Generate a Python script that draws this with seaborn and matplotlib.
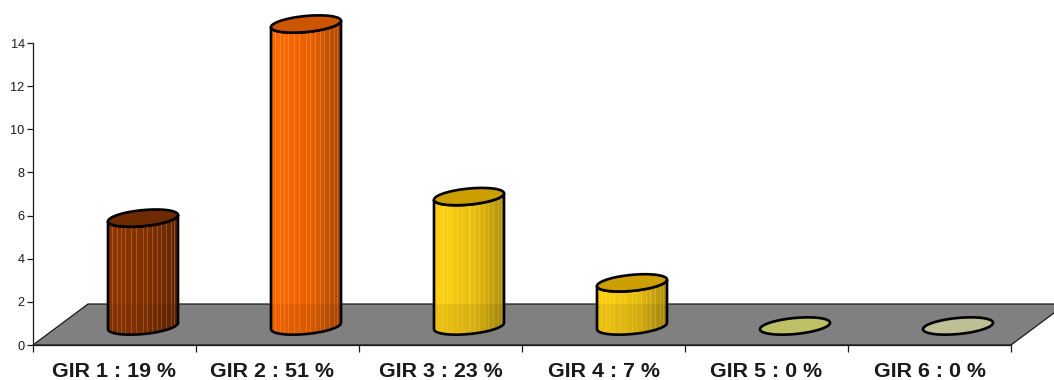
import numpy as np
import pandas as pd
import matplotlib
matplotlib.use("Agg")
import matplotlib.pyplot as plt
from matplotlib.colors import to_rgb
from matplotlib.patches import PathPatch, Polygon
from matplotlib.path import Path
from matplotlib.transforms import ScaledTranslation
import seaborn as sns

# Number of residents in each dependency group
categories = ["GIR 1 : 19 %", "GIR 2 : 51 %", "GIR 3 : 23 %",
              "GIR 4 : 7 %", "GIR 5 : 0 %", "GIR 6 : 0 %"]
counts = [5, 14, 6, 2, 0, 0]
body_colors = ["#8F3600", "#FF6A00", "#FFD010", "#FFD010", "#BFBF66", "#BFBF96"]
cap_colors = ["#6E2A00", "#CC5500", "#CC9E00", "#CC9E00", "#BFBF66", "#BFBF96"]
y_ticks = [0, 2, 4, 6, 8, 10, 12, 14]

W, H = 1054, 380
LEFT, RIGHT, BOTTOM, TOP = 33, 1011, 345, 43
PX_Y = 14 / (BOTTOM - TOP)           # data units per pixel, vertically
PX_X = 6 / (RIGHT - LEFT)            # data units per pixel, horizontally
LIFT = 19 * PX_Y                     # columns stand mid-way across the floor depth
SHIFT = 28.5 * PX_X                  # and are pushed right by the same oblique view
MINOR_PX = 8.0
ANGLE = np.radians(5.5)

sns.set_style("ticks")
plt.rcParams["font.family"] = ["Liberation Sans", "DejaVu Sans"]

fig = plt.figure(figsize=(W / 100, H / 100), dpi=100, facecolor="white")
ax = fig.add_axes([LEFT / W, 1 - BOTTOM / H, (RIGHT - LEFT) / W, (BOTTOM - TOP) / H])

df = pd.DataFrame({"group": categories, "count": counts})
sns.barplot(data=df, x="group", y="count", hue="group", palette=body_colors,
            order=categories, hue_order=categories, saturation=1, legend=False,
            width=70 / 163, bottom=LIFT, ax=ax, zorder=3)
bars = sorted(ax.patches, key=lambda p: p.get_x())
ax.set_xlim(-0.5, 5.5)
ax.set_ylim(0, 14)
ax.set_xlabel("")
ax.set_ylabel("")

# Perspective floor, running past the right edge of the plotting area
back = 41 * PX_Y
floor_pts = [(-0.5, 0), (5.5, 0), (5.5 + 55 * PX_X, back), (-0.5 + 55 * PX_X, back)]
ax.add_patch(Polygon(floor_pts, closed=True, facecolor="#808080", edgecolor="#1a1a1a",
                     linewidth=0.9, clip_on=False, zorder=1))

# Fixed fractions across the body where the lighter facets fall
facets = [0.06, 0.13, 0.19, 0.25, 0.33, 0.40, 0.50, 0.56, 0.63, 0.71, 0.77, 0.84, 0.90, 0.95]


def ellipse(cx, cy, half_w, start, stop, n=60):
    """Rotated ellipse in data units; its shape is defined in screen pixels."""
    t = np.linspace(start, stop, n)
    major = half_w / PX_X / np.cos(ANGLE)
    dx = major * np.cos(t) * np.cos(ANGLE) - MINOR_PX * np.sin(t) * np.sin(ANGLE)
    dy = major * np.cos(t) * np.sin(ANGLE) + MINOR_PX * np.sin(t) * np.cos(ANGLE)
    return np.column_stack([cx + dx * PX_X, cy + dy * PX_Y])


for bar, body, cap in zip(bars, body_colors, cap_colors):
    bar.set_visible(False)
    x0, w = bar.get_x() + SHIFT, bar.get_width()
    cx, half_w = x0 + w / 2, w / 2
    y_low, y_top = bar.get_y(), bar.get_y() + bar.get_height()

    if bar.get_height() > 0:
        # Arc limits sit where the ellipse is widest, so the sides join it tangentially
        t0 = np.arctan2(-MINOR_PX * np.sin(ANGLE), half_w / PX_X)
        front_low = ellipse(cx, y_low, half_w, np.pi + t0, 2 * np.pi + t0)
        front_top = ellipse(cx, y_top, half_w, 2 * np.pi + t0, np.pi + t0)
        outline = np.vstack([front_low, front_top, front_low[:1]])
        clip = PathPatch(Path(outline), transform=ax.transData, facecolor="none",
                         edgecolor="none")
        ax.add_patch(clip)

        # Left-to-right shading with thin pale facets
        shade = np.interp(np.linspace(0, 1, 70), [0, 0.12, 0.6, 1], [0.98, 1.0, 0.9, 0.68])
        strip = np.outer(shade, to_rgb(body))
        for f in facets:
            i = int(f * 70)
            strip[i] = strip[i] * 0.78 + 0.22 * np.array([1, 0.9, 0.75])
        img = ax.imshow(strip[np.newaxis, :, :], aspect="auto", interpolation="nearest",
                        extent=[x0, x0 + w, y_low - 2, y_top + 2], zorder=3)
        img.set_clip_box(fig.bbox)
        img.set_clip_path(clip)

        # The floor shows faintly through the lower part of each column
        veil = Polygon(floor_pts, closed=True, facecolor="black", edgecolor="none",
                       alpha=0.07, zorder=3.2)
        ax.add_patch(veil)
        veil.set_clip_path(clip)

        ax.add_patch(PathPatch(Path(outline), facecolor="none", edgecolor="black",
                               linewidth=1.9, clip_on=False, zorder=4))

    top_ring = ellipse(cx, y_top, half_w, 0, 2 * np.pi, 120)
    ax.add_patch(Polygon(top_ring, closed=True, facecolor=cap, edgecolor="black",
                         linewidth=1.9, clip_on=False, zorder=5))

ax.set_xlim(-0.5, 5.5)
ax.set_ylim(0, 14)

# Axis lines and ticks
for side in ("top", "right"):
    ax.spines[side].set_visible(False)
for side in ("left", "bottom"):
    ax.spines[side].set_linewidth(0.9)
    ax.spines[side].set_color("#1a1a1a")
    ax.spines[side].set_zorder(6)
ax.set_yticks(y_ticks)
ax.set_xticks(np.arange(-0.5, 6.0, 1), minor=False, labels=[""] * 7)
ax.set_xticks(np.arange(0, 6), labels=categories, minor=True)
ax.tick_params(axis="y", length=4, width=0.9, color="#1a1a1a", pad=2, labelsize=9.2,
               labelcolor="#1a1a1a")
ax.tick_params(axis="x", which="major", length=5, width=0.9, color="#1a1a1a")
ax.tick_params(axis="x", which="minor", length=0, pad=12.5, labelsize=15.4)
for label in ax.get_xticklabels(minor=True):
    label.set_fontweight("bold")
    label.set_color("#1a1a1a")

# The second label sits a little left of its slot
second = ax.xaxis.get_minorticklabels()[1]
second.set_transform(second.get_transform() + ScaledTranslation(-6 / 100, 0, fig.dpi_scale_trans))

fig.savefig("out.png", dpi=100, facecolor="white")
